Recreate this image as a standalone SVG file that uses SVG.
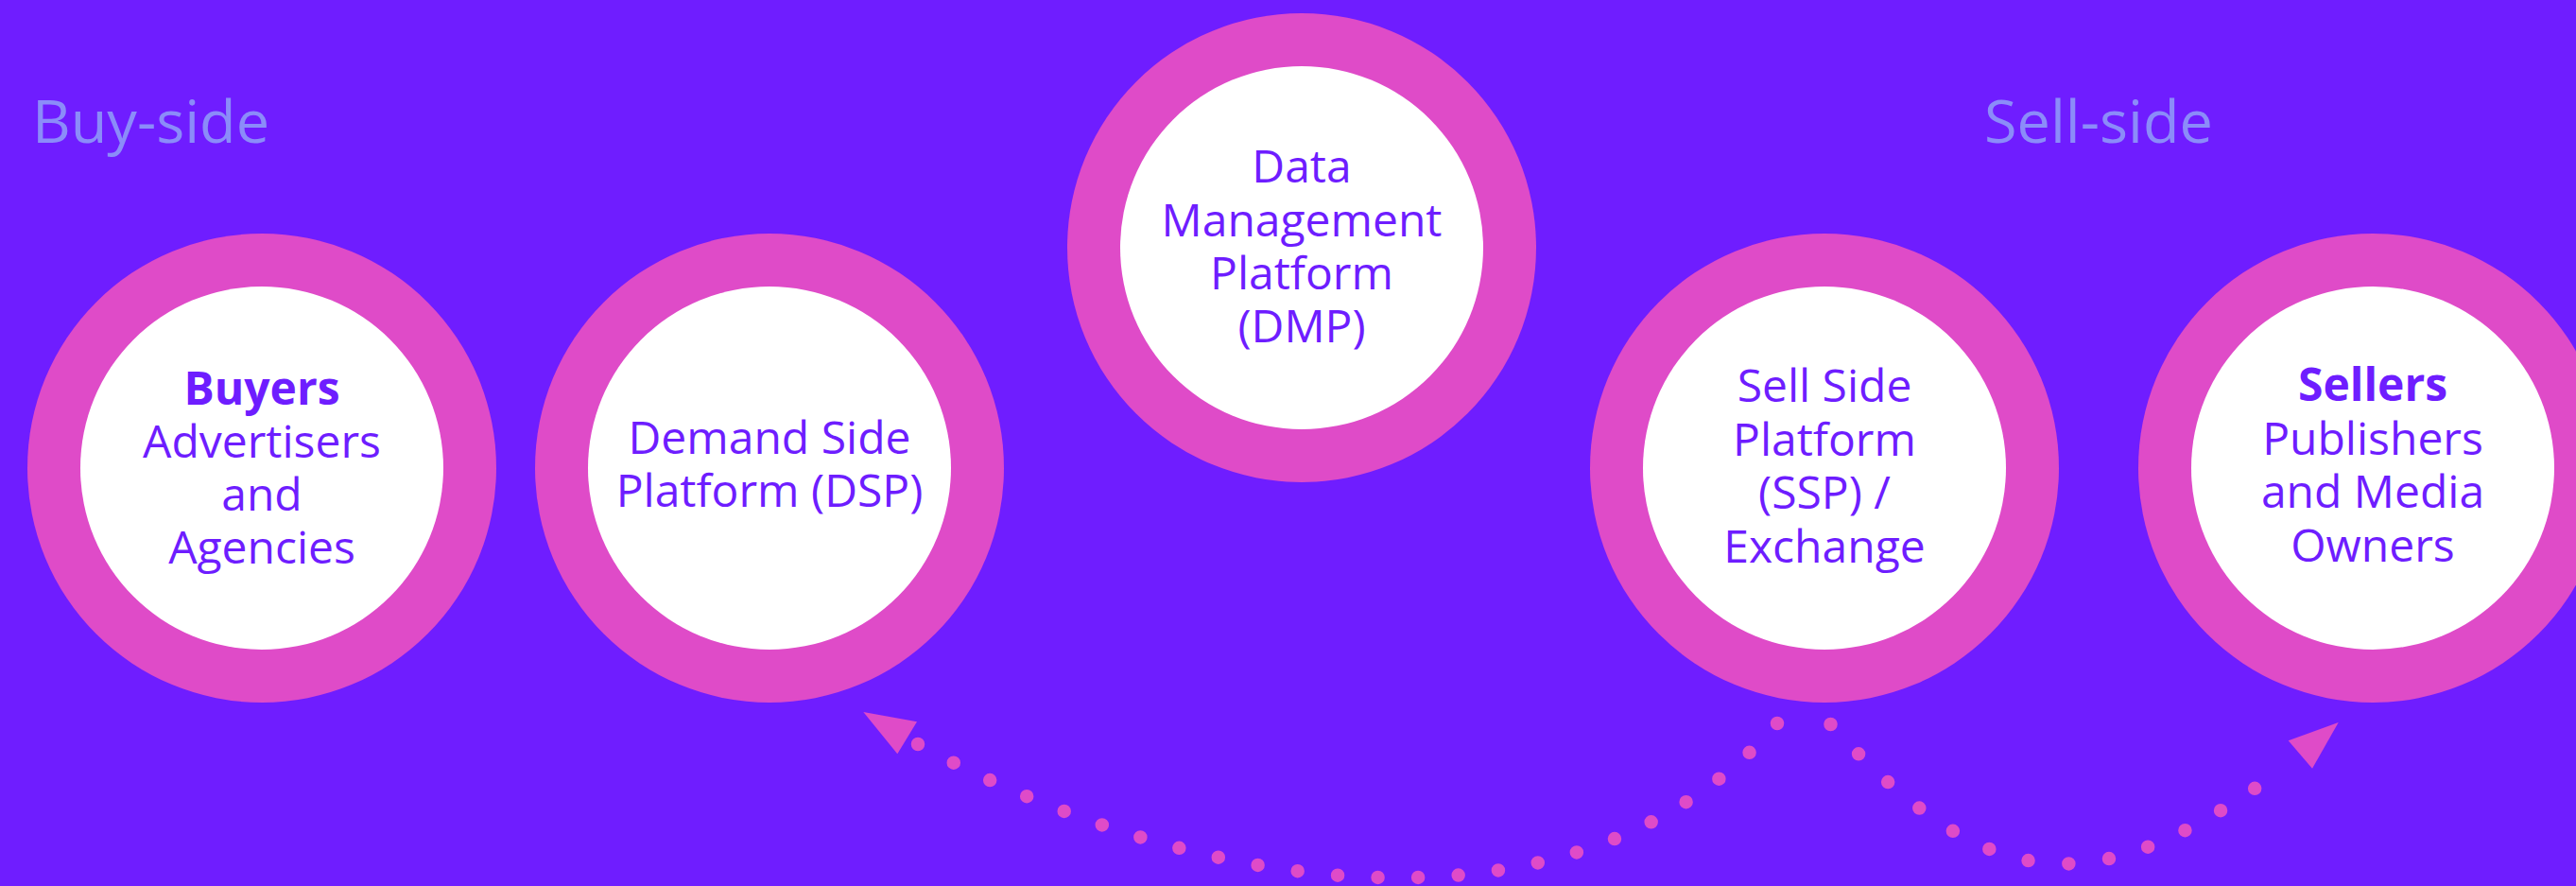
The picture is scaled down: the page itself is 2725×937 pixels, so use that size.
<svg xmlns="http://www.w3.org/2000/svg" width="2725" height="937" viewBox="0 0 2725 937">
<style>
.ring{fill:#df4bc8}
.core{fill:#ffffff}
.lbl{font-family:"Open Sans","Liberation Sans",sans-serif;font-size:48px;fill:#6e1dff;text-anchor:middle}
.b{font-weight:bold}
.side{font-family:"Open Sans","Liberation Sans",sans-serif;font-size:63px;fill:#8b8cf9}
.dots{fill:none;stroke:#df4bc8;stroke-width:14.5;stroke-linecap:round;stroke-dasharray:0 1}
.head{fill:#df4bc8}
</style>
<rect width="2725" height="937" fill="#6f1dff"/>
<text class="side" x="34" y="151">Buy-side</text>
<text class="side" x="2099" y="151">Sell-side</text>
<g id="connectors">
<path class="dots" pathLength="23" d="M1880,765 C1676.9,999.4 1287.8,958.4 971,787"/>
<polygon class="head" points="913.3,753 970,763.3 949.3,797.3"/>
<path class="dots" pathLength="13" d="M1936.5,766 C2104.5,951.3 2219.7,958 2420.2,808.7"/>
<polygon class="head" points="2473.7,764 2420.7,783.3 2446,812.7"/>
</g>
<g id="buyers">
<circle class="ring" cx="277" cy="495" r="248"/>
<circle class="core" cx="277" cy="495" r="192"/>
<text class="lbl b" x="277" y="428">Buyers</text>
<text class="lbl" x="277" y="484">Advertisers</text>
<text class="lbl" x="277" y="540">and</text>
<text class="lbl" x="277" y="596">Agencies</text>
</g>
<g id="dsp">
<circle class="ring" cx="814" cy="495" r="248"/>
<circle class="core" cx="814" cy="495" r="192"/>
<text class="lbl" x="814" y="479.5">Demand Side</text>
<text class="lbl" x="814" y="536">Platform (DSP)</text>
</g>
<g id="dmp">
<circle class="ring" cx="1377" cy="262" r="248"/>
<circle class="core" cx="1377" cy="262" r="192"/>
<text class="lbl" x="1377" y="193">Data</text>
<text class="lbl" x="1377" y="249.5">Management</text>
<text class="lbl" x="1377" y="306">Platform</text>
<text class="lbl" x="1377" y="362">(DMP)</text>
</g>
<g id="ssp">
<circle class="ring" cx="1930" cy="495" r="248"/>
<circle class="core" cx="1930" cy="495" r="192"/>
<text class="lbl" x="1930" y="425">Sell Side</text>
<text class="lbl" x="1930" y="481.5">Platform</text>
<text class="lbl" x="1930" y="538">(SSP) /</text>
<text class="lbl" x="1930" y="594.5">Exchange</text>
</g>
<g id="sellers">
<circle class="ring" cx="2510" cy="495" r="248"/>
<circle class="core" cx="2510" cy="495" r="192"/>
<text class="lbl b" x="2510" y="424">Sellers</text>
<text class="lbl" x="2510" y="480.5">Publishers</text>
<text class="lbl" x="2510" y="537">and Media</text>
<text class="lbl" x="2510" y="593.5">Owners</text>
</g>
</svg>
